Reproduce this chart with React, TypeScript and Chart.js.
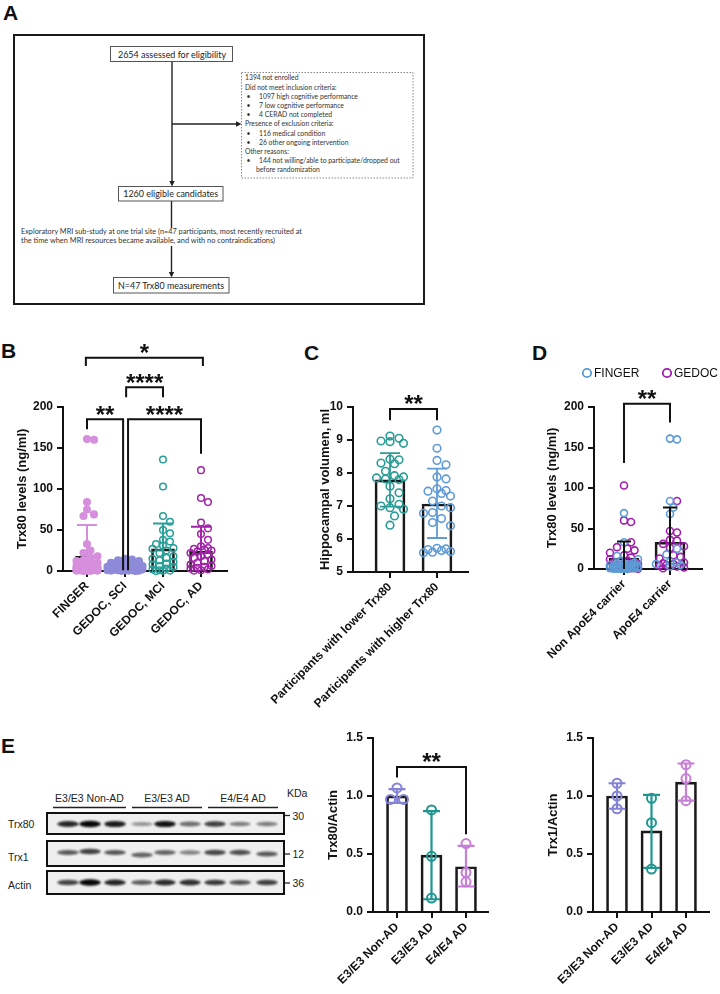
import React, { useEffect, useRef } from 'react';
import { Chart, registerables } from 'chart.js';

Chart.register(...registerables);

const SANS = "'Liberation Sans', Arial, Helvetica, sans-serif";
const CAL = "Lato, 'Open Sans', sans-serif";
Chart.defaults.font.family = SANS;

// ---------------- Panel A: flow chart text ----------------
const aBox1 = '2654 assessed for eligibility';
const aBox2 = '1260 eligible candidates';
const aBox3 = 'N=47 Trx80 measurements';
const aMri = [
  'Exploratory MRI sub-study at one trial site (n=47 participants, most recently recruited at',
  'the time when MRI resources became available, and with no contraindications)',
];
const aExcl = [
  { t: '1394 not enrolled', b: 0 },
  { t: 'Did not meet inclusion criteria:', b: 0 },
  { t: '1097 high cognitive performance', b: 1 },
  { t: '7 low cognitive performance', b: 1 },
  { t: '4 CERAD not completed', b: 1 },
  { t: 'Presence of exclusion criteria:', b: 0 },
  { t: '116 medical condition', b: 1 },
  { t: '26 other ongoing intervention', b: 1 },
  { t: 'Other reasons:', b: 0 },
  { t: '144 not willing/able to participate/dropped out', b: 1 },
  { t: 'before randomization', b: 2 },
];

// ---------------- Panel B ----------------
const bCats = ['FINGER', 'GEDOC, SCI', 'GEDOC, MCI', 'GEDOC, AD'];
const bColors = ['#d68fdc', '#8d8bd9', '#27a09a', '#a224a8'];
const bFinger = [161, 160, 84, 75, 69, 67, 33, 25, 22, 18, 16, 13, 12, 10, 9, 8, 8, 7, 6, 6, 5, 5, 5, 4, 4, 4, 3, 3, 3, 3, 2, 2, 2, 2, 2, 1.5, 1.5, 1, 1, 1, 1, 0.8, 0.5, 0.5, 0.3, 0.2, 0.1];
const bSci = [15, 14, 13, 12, 10, 9, 8, 7, 6, 5, 5, 4, 4, 3, 3, 3, 2, 2, 2, 2, 1.5, 1, 1, 1, 1, 0.5, 0.5, 0.5, 0.2, 0.1];
const bMci = [136, 103, 67, 60, 50, 46, 38, 36, 33, 31, 28, 27, 25, 22, 18, 16, 15, 13, 11, 9, 8, 6, 5, 3, 2, 1, 0.5, 0.3, 0.1];
const bAd = [123, 89, 84, 59, 52, 45, 38, 30, 28, 27, 26, 25, 24, 22, 20, 18, 16, 14, 12, 10, 8, 6, 5, 4, 3, 2, 1, 0.5];
const bMeans = [18, 3, 27, 24];
const bSdTop = [56, 8, 58, 54];
const bSdBottom = [-20, -2, -4, -6];
const bTicks = [0, 50, 100, 150, 200];

// ---------------- Panel C ----------------
const cCats = ['Participants with lower Trx80', 'Participants with higher Trx80'];
const cColors = ['#2b9c96', '#5f9bd6'];
const cLower = [9.12, 9.05, 8.97, 8.95, 8.9, 8.42, 8.4, 8.3, 8.28, 8.05, 7.92, 7.88, 7.85, 7.82, 7.8, 7.6, 7.4, 7.22, 7.05, 7.0, 6.95, 6.9, 6.7, 6.42];
const cHigher = [9.3, 8.75, 8.38, 8.25, 7.88, 7.82, 7.52, 7.47, 7.45, 7.38, 7.3, 7.15, 7.0, 6.95, 6.8, 6.78, 6.62, 6.5, 6.4, 5.72, 5.7, 5.68, 5.65, 5.62, 5.6, 5.58];
const cMeans = [7.79, 7.06];
const cSdTop = [8.6, 8.13];
const cSdBottom = [6.98, 6.03];
const cTicks = [5, 6, 7, 8, 9, 10];

// ---------------- Panel D ----------------
const dCats = ['Non ApoE4 carrier', 'ApoE4 carrier'];
const dSeries = ['FINGER', 'GEDOC'];
const dColors = ['#5b9bd5', '#a21caf'];
const dNonFinger = [69, 33, 16, 12, 10, 8, 7, 6, 6, 5, 5, 4, 4, 4, 3, 3, 3, 3, 2, 2, 2, 2, 2, 1.5, 1.5, 1, 1, 1, 1, 0.8, 0.5, 0.5, 0.3, 0.2, 0.1];
const dNonGedoc = [103, 60, 58, 33, 27, 25, 23, 20, 17, 14, 12, 10, 8, 6, 5, 4, 3, 2, 1, 0.5];
const dApoFinger = [161, 160, 84, 76, 68, 25, 18, 9, 8, 6, 5, 3];
const dApoGedoc = [84, 47, 45, 36, 35, 31, 28, 26, 17, 15, 13, 8, 7, 6, 5, 4, 3, 2, 1];
const dMeans = [13.6, 33];
const dSdTop = [34, 76];
const dSdBottom = [-6.8, -10];
const dTicks = [0, 50, 100, 150, 200];

// ---------------- Panel E ----------------
const eCats = ['E3/E3 Non-AD', 'E3/E3 AD', 'E4/E4 AD'];
const eColors = ['#8583d6', '#1f9690', '#c77ed6'];
const eTrx80Pts = [[1.07, 0.97, 0.97], [0.88, 0.48, 0.12], [0.59, 0.34, 0.26]];
const eTrx80Means = [1.0, 0.49, 0.39];
const eTrx80SdTop = [1.06, 0.87, 0.57];
const eTrx80SdBottom = [0.94, 0.11, 0.22];
const eTrx1Pts = [[1.11, 1.0, 0.89], [0.98, 0.77, 0.37], [1.27, 1.15, 0.96]];
const eTrx1Means = [1.0, 0.7, 1.12];
const eTrx1SdTop = [1.11, 1.01, 1.28];
const eTrx1SdBottom = [0.89, 0.38, 0.96];
const eTicks = [0, 0.5, 1.0, 1.5];

// Western blot
const blotGroups = ['E3/E3 Non-AD', 'E3/E3 AD', 'E4/E4 AD'];
const blotRows = ['Trx80', 'Trx1', 'Actin'];
const blotMarkers = ['30', '12', '36'];
const trx80Bands = [0.85, 1.0, 0.9, 0.3, 0.95, 0.5, 0.72, 0.42, 0.42];
const trx1Bands = [0.6, 0.72, 0.62, 0.55, 0.55, 0.4, 0.68, 0.65, 0.6];
const actinBands = [0.7, 1.0, 0.85, 0.58, 0.82, 0.8, 0.75, 0.62, 0.72];

// ---------------- chart builder ----------------
type Group = { cat: number; label: string; values: number[]; color: string; filled: boolean };
type Bracket = { x1: number; x2: number; y: number; y1: number; y2: number; label: string };
type Cfg = {
  box: { left: number; top: number; w: number; h: number };
  area: { l: number; r: number; t: number; b: number };
  padL: number; titleX: number; c0: number; sp: number;
  cats: string[]; means: number[]; errLo: number[]; errHi: number[]; errColors: string[];
  groups: Group[]; yMin: number; yMax: number; yTicks: number[]; dec: number; yTitle: string;
  barW: number; r: number; pbw: number; capW: number; errLW: number;
  swarmD: number[]; swarmW: number[]; brackets: Bracket[];
  legend?: { x: number; y: number; label: string; color: string }[];
};

function swarm(vals: number[], pxY: number, pxX: number, d: number, maxW: number): number[] {
  const idx = vals.map((_, i) => i).sort((a, b) => vals[b] - vals[a]);
  const placed: [number, number][] = [];
  const out = vals.map(() => 0);
  const step = d / 2;
  const nMax = Math.max(0, Math.floor(maxW / step));
  for (const i of idx) {
    const y = vals[i] * pxY;
    let best = 0;
    let bestD = -1;
    for (let k = 0; k <= 2 * nMax; k++) {
      const off = k === 0 ? 0 : (k % 2 ? 1 : -1) * Math.ceil(k / 2) * step;
      let m = Infinity;
      for (const [px, py] of placed) {
        const dd = Math.hypot(px - off, py - y);
        if (dd < m) m = dd;
      }
      if (m >= d) { best = off; bestD = m; break; }
      if (m > bestD + 0.01) { bestD = m; best = off; }
    }
    placed.push([best, y]);
    out[i] = best / pxX;
  }
  return out;
}

function buildChart(canvas: HTMLCanvasElement, c: Cfg) {
  const { box, area } = c;
  const pxY = (area.b - area.t) / (c.yMax - c.yMin);
  const offsets: number[][] = c.groups.map((g) => g.values.map(() => 0));
  c.cats.forEach((_, ci) => {
    const entries: { gi: number; j: number; v: number }[] = [];
    c.groups.forEach((g, gi) => { if (g.cat === ci) g.values.forEach((v, j) => entries.push({ gi, j, v })); });
    const offs = swarm(entries.map((e) => e.v), pxY, c.sp, c.swarmD[ci], c.swarmW[ci]);
    entries.forEach((e, k) => { offsets[e.gi][e.j] = offs[k]; });
  });
  const datasets: any[] = [{
    type: 'bar', label: 'mean', data: c.means.map((m, i) => ({ x: i, y: m })),
    backgroundColor: 'rgba(255,255,255,0)', borderColor: '#1a1a1a', borderWidth: 2,
    barThickness: c.barW, borderSkipped: 'start', order: 5,
  }];
  c.groups.forEach((g, gi) => {
    datasets.push({
      type: 'scatter', label: g.label,
      data: g.values.map((v, j) => ({ x: g.cat + offsets[gi][j], y: v })),
      pointStyle: 'circle', pointRadius: c.r, pointHoverRadius: c.r, pointBorderWidth: c.pbw,
      pointBackgroundColor: g.filled ? g.color : 'rgba(0,0,0,0)', pointBorderColor: g.color,
      borderColor: g.color, backgroundColor: g.color, showLine: false, clip: false, order: 1,
    });
  });
  const relL = area.l - box.left;
  const relR = area.r - box.left;
  const relT = area.t - box.top;
  const relB = area.b - box.top;
  const xMin = (area.l - c.c0) / c.sp;
  const xMax = (area.r - c.c0) / c.sp;
  const titlePad = c.titleX - box.left - c.padL - 7.8;
  const tickFont = { family: SANS, size: 12, weight: 'bold' as const };
  const gridOpt = { display: true, drawOnChartArea: false, drawTicks: true, tickLength: 6, lineWidth: 2, color: '#111' };

  const overlay = {
    id: 'overlay',
    afterDatasetsDraw(chart: any) {
      const ctx = chart.ctx as CanvasRenderingContext2D;
      const xs = chart.scales.x;
      const ys = chart.scales.y;
      ctx.save();
      c.means.forEach((_, i) => {
        const x = xs.getPixelForValue(i);
        const yHi = ys.getPixelForValue(c.errHi[i]);
        const clipped = c.errLo[i] < c.yMin;
        const yLo = ys.getPixelForValue(Math.max(c.errLo[i], c.yMin));
        ctx.strokeStyle = c.errColors[i];
        ctx.lineWidth = c.errLW;
        ctx.beginPath();
        ctx.moveTo(x, yHi); ctx.lineTo(x, yLo);
        ctx.moveTo(x - c.capW / 2, yHi); ctx.lineTo(x + c.capW / 2, yHi);
        if (!clipped) { ctx.moveTo(x - c.capW / 2, yLo); ctx.lineTo(x + c.capW / 2, yLo); }
        ctx.stroke();
      });
      ctx.strokeStyle = '#111';
      ctx.fillStyle = '#111';
      ctx.lineWidth = 2;
      ctx.font = `bold 24px ${SANS}`;
      ctx.textAlign = 'center';
      ctx.textBaseline = 'alphabetic';
      c.brackets.forEach((b) => {
        const x1 = xs.getPixelForValue(b.x1);
        const x2 = xs.getPixelForValue(b.x2);
        const y = ys.getPixelForValue(b.y);
        const y1 = ys.getPixelForValue(b.y1);
        const y2 = ys.getPixelForValue(b.y2);
        ctx.beginPath();
        ctx.moveTo(x1, y1); ctx.lineTo(x1, y); ctx.lineTo(x2, y); ctx.lineTo(x2, y2);
        ctx.stroke();
        ctx.fillText(b.label, (x1 + x2) / 2, y + 24 * 0.575 - 10.5);
      });
      if (c.legend) {
        ctx.font = `12px ${SANS}`;
        ctx.textAlign = 'left';
        ctx.textBaseline = 'middle';
        c.legend.forEach((l) => {
          const lx = l.x - box.left;
          const ly = l.y - box.top;
          ctx.strokeStyle = l.color;
          ctx.lineWidth = 1.8;
          ctx.beginPath();
          ctx.arc(lx, ly, 4.2, 0, Math.PI * 2);
          ctx.stroke();
          ctx.fillStyle = '#111';
          ctx.fillText(l.label, lx + 7, ly + 0.5);
        });
      }
      ctx.restore();
    },
  };

  return new Chart(canvas, {
    type: 'bar',
    data: { datasets },
    options: {
      responsive: false, maintainAspectRatio: false, animation: false,
      layout: { padding: { left: c.padL, top: relT, right: box.w - relR, bottom: 0 } },
      plugins: { legend: { display: false }, tooltip: { enabled: false } },
      scales: {
        x: {
          type: 'linear', min: xMin, max: xMax, offset: false,
          afterBuildTicks: (s: any) => { s.ticks = c.cats.map((_, i) => ({ value: i })); },
          afterFit: (s: any) => { s.height = box.h - relB; s.paddingLeft = 0; s.paddingRight = 0; },
          ticks: {
            autoSkip: false, minRotation: 45, maxRotation: 45, padding: 2, color: '#111', font: tickFont,
            callback: (v: any) => c.cats[Math.round(Number(v))],
          },
          grid: { ...gridOpt, offset: false },
          border: { display: true, color: '#111', width: 2 },
        },
        y: {
          type: 'linear', min: c.yMin, max: c.yMax,
          afterBuildTicks: (s: any) => { s.ticks = c.yTicks.map((v) => ({ value: v })); },
          afterFit: (s: any) => { s.width = relL - c.padL; s.paddingTop = 0; s.paddingBottom = 0; },
          ticks: {
            padding: 4, color: '#111', font: tickFont,
            callback: (v: any) => Number(v).toFixed(c.dec),
          },
          grid: gridOpt,
          border: { display: true, color: '#111', width: 2 },
          title: {
            display: true, text: c.yTitle, color: '#111',
            font: { family: SANS, size: 13, weight: 'bold' }, padding: { top: titlePad, bottom: 0 },
          },
        },
      },
    } as any,
    plugins: [overlay],
  } as any);
}

const cfgB: Cfg = {
  box: { left: 0, top: 330, w: 240, h: 400 }, area: { l: 63, r: 227, t: 407, b: 571 },
  padL: 8, titleX: 22, c0: 87, sp: 38, cats: bCats, means: bMeans, errLo: bSdBottom, errHi: bSdTop,
  errColors: bColors,
  groups: [
    { cat: 0, label: bCats[0], values: bFinger, color: bColors[0], filled: true },
    { cat: 1, label: bCats[1], values: bSci, color: bColors[1], filled: true },
    { cat: 2, label: bCats[2], values: bMci, color: bColors[2], filled: false },
    { cat: 3, label: bCats[3], values: bAd, color: bColors[3], filled: false },
  ],
  yMin: 0, yMax: 200, yTicks: bTicks, dec: 0, yTitle: 'Trx80 levels (ng/ml)',
  barW: 23, r: 3.3, pbw: 1.5, capW: 20, errLW: 2, swarmD: [7, 7, 7, 7], swarmW: [12, 20, 13, 13],
  brackets: [
    { x1: 0, x2: 0.95, y: 185, y1: 173, y2: 1, label: '**' },
    { x1: 1.08, x2: 3, y: 185, y1: 1, y2: 143, label: '****' },
    { x1: 1.03, x2: 2, y: 224, y1: 212, y2: 212, label: '****' },
    { x1: -0.03, x2: 3.05, y: 260, y1: 250, y2: 250, label: '*' },
  ],
};

const cfgC: Cfg = {
  box: { left: 240, top: 330, w: 240, h: 400 }, area: { l: 353, r: 468, t: 407, b: 572 },
  padL: 72, titleX: 325, c0: 390, sp: 47, cats: cCats, means: cMeans, errLo: cSdBottom, errHi: cSdTop,
  errColors: cColors,
  groups: [
    { cat: 0, label: cCats[0], values: cLower, color: cColors[0], filled: false },
    { cat: 1, label: cCats[1], values: cHigher, color: cColors[1], filled: false },
  ],
  yMin: 5, yMax: 10, yTicks: cTicks, dec: 0, yTitle: 'Hippocampal volumen, ml',
  barW: 30, r: 3.8, pbw: 1.6, capW: 20, errLW: 1.8, swarmD: [9, 9], swarmW: [14, 14],
  brackets: [{ x1: 0, x2: 1, y: 9.94, y1: 9.6, y2: 9.6, label: '**' }],
};

const cfgD: Cfg = {
  box: { left: 480, top: 330, w: 240, h: 400 }, area: { l: 594, r: 702, t: 407, b: 569 },
  padL: 59, titleX: 552, c0: 624, sp: 46, cats: dCats, means: dMeans, errLo: dSdBottom, errHi: dSdTop,
  errColors: ['#111', '#111'],
  groups: [
    { cat: 0, label: dSeries[0], values: dNonFinger, color: dColors[0], filled: false },
    { cat: 0, label: dSeries[1], values: dNonGedoc, color: dColors[1], filled: false },
    { cat: 1, label: dSeries[0], values: dApoFinger, color: dColors[0], filled: false },
    { cat: 1, label: dSeries[1], values: dApoGedoc, color: dColors[1], filled: false },
  ],
  yMin: 0, yMax: 200, yTicks: dTicks, dec: 0, yTitle: 'Trx80 levels (ng/ml)',
  barW: 30, r: 3.5, pbw: 1.6, capW: 14, errLW: 2, swarmD: [7, 7], swarmW: [15, 15],
  brackets: [{ x1: 0, x2: 1, y: 204, y1: 131, y2: 181, label: '**' }],
  legend: [
    { x: 587, y: 373, label: dSeries[0], color: dColors[0] },
    { x: 667, y: 373, label: dSeries[1], color: dColors[1] },
  ],
};

const cfgE1: Cfg = {
  box: { left: 300, top: 700, w: 210, h: 294 }, area: { l: 373, r: 488, t: 738, b: 912 },
  padL: 20, titleX: 333, c0: 397, sp: 34.5, cats: eCats, means: eTrx80Means, errLo: eTrx80SdBottom,
  errHi: eTrx80SdTop, errColors: eColors,
  groups: eTrx80Pts.map((v, i) => ({ cat: i, label: eCats[i], values: v, color: eColors[i], filled: false })),
  yMin: 0, yMax: 1.5, yTicks: eTicks, dec: 1, yTitle: 'Trx80/Actin',
  barW: 21, r: 4.5, pbw: 2, capW: 17, errLW: 2.2, swarmD: [13, 9, 9], swarmW: [9, 9, 9],
  brackets: [{ x1: 0, x2: 2, y: 1.25, y1: 1.16, y2: 0.67, label: '**' }],
};

const cfgE2: Cfg = {
  box: { left: 510, top: 700, w: 210, h: 294 }, area: { l: 593, r: 709, t: 738, b: 912 },
  padL: 30, titleX: 553, c0: 617, sp: 34.5, cats: eCats, means: eTrx1Means, errLo: eTrx1SdBottom,
  errHi: eTrx1SdTop, errColors: eColors,
  groups: eTrx1Pts.map((v, i) => ({ cat: i, label: eCats[i], values: v, color: eColors[i], filled: false })),
  yMin: 0, yMax: 1.5, yTicks: eTicks, dec: 1, yTitle: 'Trx1/Actin',
  barW: 21, r: 4.5, pbw: 2, capW: 17, errLW: 2.2, swarmD: [9, 9, 9], swarmW: [9, 9, 9],
  brackets: [],
};

function DotBarChart({ cfg }: { cfg: Cfg }) {
  const ref = useRef<HTMLCanvasElement>(null);
  useEffect(() => {
    const chart = buildChart(ref.current as HTMLCanvasElement, cfg);
    return () => chart.destroy();
  }, [cfg]);
  return (
    <canvas
      ref={ref}
      width={cfg.box.w}
      height={cfg.box.h}
      style={{ position: 'absolute', left: cfg.box.left, top: cfg.box.top, width: cfg.box.w, height: cfg.box.h }}
    />
  );
}

// ---------------- static drawing layer (flow chart, blot, panel letters) ----------------
const laneX = [68, 90, 115, 142, 165, 190, 215, 240, 267];
const groupLines = [[53, 126], [132, 202], [208, 278]];
const rowBoxes = [[813, 21], [841, 25], [871, 23]];
const rowBandY = [824, 852.5, 882.5];
const rowLabelY = [827.5, 860.5, 889];
const markerY = [815.5, 854, 883];
const trx1Dy = [0, -1, 0, 2.5, 0, 0, 0, 0, 1.5];

function Figure() {
  const bandSets = [trx80Bands, trx1Bands, actinBands];
  return (
    <svg width={720} height={994} style={{ position: 'absolute', left: 0, top: 0 }}>
      <defs>
        <filter id="blur" x="-30%" y="-200%" width="160%" height="500%">
          <feGaussianBlur stdDeviation="0.9" />
        </filter>
      </defs>
      {/* panel letters */}
      <g fontFamily={SANS} fontWeight="bold" fontSize={21} fill="#111">
        <text x={3} y={20}>A</text>
        <text x={1} y={358}>B</text>
        <text x={304} y={360}>C</text>
        <text x={532} y={360}>D</text>
        <text x={1} y={753}>E</text>
      </g>
      {/* panel A */}
      <rect x={14} y={35} width={410} height={269} fill="none" stroke="#1a1a1a" strokeWidth={2} />
      <line x1={172} y1={61.5} x2={172} y2={182} stroke="#222" strokeWidth={1.4} />
      <polygon points="169.3,181 174.7,181 172,186.5" fill="#222" />
      <line x1={172} y1={124} x2={237} y2={124} stroke="#222" strokeWidth={1.4} />
      <polygon points="236,121.3 236,126.7 241.5,124" fill="#222" />
      <line x1={171.5} y1={201} x2={171.5} y2={228} stroke="#222" strokeWidth={1.4} />
      <line x1={171.5} y1={246} x2={171.5} y2={273} stroke="#222" strokeWidth={1.4} />
      <polygon points="168.8,272 174.2,272 171.5,277.5" fill="#222" />
      <rect x={110.5} y={46.5} width={122} height={15} fill="#fff" stroke="#555" strokeWidth={1} />
      <rect x={118.5} y={186.5} width={104.5} height={14.5} fill="#fff" stroke="#555" strokeWidth={1} />
      <rect x={113.5} y={277.5} width={115.5} height={15.5} fill="#fff" stroke="#555" strokeWidth={1} />
      <rect x={241.5} y={72.5} width={171.5} height={105.5} fill="none" stroke="#888" strokeWidth={1} strokeDasharray="1.5 1.5" />
      <g fontFamily={CAL} fill="#222">
        <text x={172} y={57.5} fontSize={9.5} textAnchor="middle" textLength={108} lengthAdjust="spacingAndGlyphs">{aBox1}</text>
        <text x={170.7} y={197.3} fontSize={9.5} textAnchor="middle" textLength={95} lengthAdjust="spacingAndGlyphs">{aBox2}</text>
        <text x={171} y={288.8} fontSize={9.5} textAnchor="middle" textLength={106} lengthAdjust="spacingAndGlyphs">{aBox3}</text>
      </g>
      <g fontFamily={CAL} fill="#333" fontSize={6.8}>
        <text x={21} y={234.3} textLength={281} lengthAdjust="spacingAndGlyphs">{aMri[0]}</text>
        <text x={21} y={243.3} textLength={254} lengthAdjust="spacingAndGlyphs">{aMri[1]}</text>
        {aExcl.map((l, i) => {
          const y = 80.4 + i * 9.2;
          if (l.b === 1) {
            return (
              <g key={i}>
                <text x={246.5} y={y}>•</text>
                <text x={259} y={y}>{l.t}</text>
              </g>
            );
          }
          return <text key={i} x={l.b === 2 ? 256 : 245} y={y}>{l.t}</text>;
        })}
      </g>
      {/* Western blot */}
      <g fontFamily={SANS} fontSize={10.5} fill="#222">
        {blotGroups.map((g, i) => (
          <text key={g} x={(groupLines[i][0] + groupLines[i][1]) / 2} y={802} textAnchor="middle">{g}</text>
        ))}
        <text x={287} y={797}>KDa</text>
        {blotRows.map((r, i) => <text key={r} x={8} y={rowLabelY[i]}>{r}</text>)}
        {blotMarkers.map((m, i) => <text key={m} x={292.5} y={markerY[i] + 4}>{m}</text>)}
      </g>
      {groupLines.map((g, i) => (
        <line key={i} x1={g[0]} y1={807.5} x2={g[1]} y2={807.5} stroke="#222" strokeWidth={1.5} />
      ))}
      {markerY.map((y, i) => (
        <line key={i} x1={284} y1={y} x2={290} y2={y} stroke="#222" strokeWidth={1.3} />
      ))}
      {rowBoxes.map((b, i) => (
        <rect key={i} x={47} y={b[0]} width={237} height={b[1]} fill="#efefef" stroke="none" />
      ))}
      {bandSets.map((set, ri) => set.map((v, li) => (
        <ellipse
          key={`${ri}-${li}`}
          cx={laneX[li]}
          cy={rowBandY[ri] + (ri === 1 ? trx1Dy[li] : 0)}
          rx={10.8}
          ry={1.6 + 1.6 * v}
          fill="#000"
          opacity={0.12 + 0.85 * v}
          filter="url(#blur)"
        />
      )))}
      {rowBoxes.map((b, i) => (
        <rect key={i} x={47} y={b[0]} width={237} height={b[1]} fill="none" stroke="#111" strokeWidth={2} />
      ))}
    </svg>
  );
}

export default function App() {
  return (
    <div style={{ position: 'absolute', left: 0, top: 0, width: 720, height: 994, background: '#fff', overflow: 'hidden' }}>
      <Figure />
      <DotBarChart cfg={cfgB} />
      <DotBarChart cfg={cfgC} />
      <DotBarChart cfg={cfgD} />
      <DotBarChart cfg={cfgE1} />
      <DotBarChart cfg={cfgE2} />
    </div>
  );
}
